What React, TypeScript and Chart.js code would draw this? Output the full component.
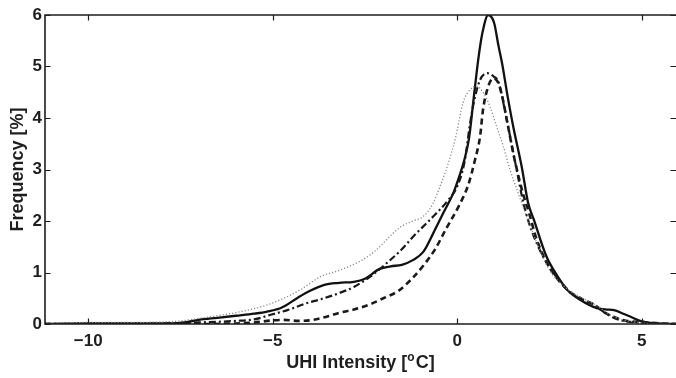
import React, { useEffect, useRef } from "react";
import { Chart, registerables } from "chart.js";

Chart.register(...registerables);

// ---- Data ----
const solidX = [-11.2, -10, -9, -8, -7.5, -7, -6.5, -6, -5.5, -5.15, -4.75, -4.3, -4, -3.6, -3.2, -2.8, -2.5, -2.1, -1.8, -1.5, -1.2, -0.92, -0.65, -0.38, -0.1, 0.05, 0.18, 0.32, 0.45, 0.57, 0.68, 0.84, 1.0, 1.12, 1.22, 1.36, 1.52, 1.75, 1.92, 2.08, 2.42, 2.7, 3.0, 3.33, 3.78, 4.05, 4.25, 4.5, 4.7, 5.0, 5.4, 5.93];
const solidY = [0, 0.01, 0.01, 0.01, 0.02, 0.08, 0.12, 0.16, 0.2, 0.24, 0.32, 0.52, 0.64, 0.76, 0.8, 0.82, 0.88, 1.07, 1.12, 1.15, 1.24, 1.4, 1.76, 2.15, 2.55, 2.85, 3.15, 3.6, 4.4, 5.13, 5.64, 6.0, 5.85, 5.4, 5.05, 4.45, 3.83, 3.05, 2.36, 2.02, 1.31, 0.95, 0.65, 0.47, 0.31, 0.28, 0.27, 0.2, 0.14, 0.05, 0.01, 0];

const dashX = [-11.2, -7, -6, -5.5, -5, -4.7, -4.3, -3.9, -3.5, -3.18, -2.8, -2.3, -2, -1.6, -1.2, -0.9, -0.6, -0.3, 0.05, 0.3, 0.48, 0.62, 0.7, 0.84, 0.98, 1.1, 1.2, 1.38, 1.56, 1.78, 1.95, 2.15, 2.5, 3.05, 3.4, 3.7, 4.0, 4.3, 4.6, 5.0, 5.5, 5.93];
const dashY = [0, 0, 0.01, 0.03, 0.07, 0.08, 0.06, 0.08, 0.15, 0.22, 0.28, 0.4, 0.5, 0.64, 0.9, 1.15, 1.45, 1.85, 2.3, 2.7, 3.18, 3.64, 4.16, 4.61, 4.77, 4.7, 4.48, 3.83, 3.18, 2.54, 2.15, 1.65, 1.1, 0.63, 0.48, 0.38, 0.22, 0.12, 0.06, 0.04, 0.01, 0];

const dashDotX = [-11.2, -9, -7.5, -7, -6, -5.5, -5, -4.6, -4.1, -3.7, -3.2, -2.8, -2.3, -1.85, -1.5, -1.19, -0.7, -0.25, 0.0, 0.2, 0.34, 0.45, 0.62, 0.82, 1.0, 1.12, 1.29, 1.47, 1.65, 1.8, 2.0, 2.3, 2.6, 3.0, 3.3, 3.7, 4.0, 4.3, 4.6, 5.0, 5.93];
const dashDotY = [0, 0.01, 0.02, 0.03, 0.06, 0.09, 0.19, 0.27, 0.4, 0.48, 0.6, 0.72, 0.95, 1.22, 1.45, 1.7, 2.05, 2.4, 2.67, 3.15, 3.85, 4.3, 4.74, 4.87, 4.8, 4.7, 4.16, 3.51, 2.86, 2.33, 1.85, 1.35, 1.0, 0.65, 0.5, 0.38, 0.22, 0.1, 0.05, 0.02, 0];

const dotX = [-11.2, -10, -9, -8, -7.5, -7, -6.5, -6, -5.5, -5.15, -4.7, -4.26, -3.7, -3.2, -2.8, -2.4, -2.1, -1.8, -1.5, -1.2, -0.9, -0.65, -0.45, -0.25, -0.05, 0.16, 0.35, 0.52, 0.7, 0.89, 1.07, 1.25, 1.43, 1.65, 1.9, 2.2, 2.5, 3.0, 3.4, 3.8, 4.1, 4.4, 4.8, 5.2, 5.93];
const dotY = [0.01, 0.03, 0.03, 0.04, 0.06, 0.11, 0.16, 0.22, 0.3, 0.37, 0.5, 0.66, 0.92, 1.04, 1.16, 1.32, 1.5, 1.72, 1.9, 2.0, 2.1, 2.35, 2.7, 3.1, 3.6, 4.3, 4.55, 4.62, 4.5, 4.22, 3.83, 3.45, 3.0, 2.55, 2.05, 1.5, 1.05, 0.67, 0.5, 0.35, 0.2, 0.1, 0.04, 0.01, 0];

const xTickValues = [-10, -5, 0, 5];
const yTickValues = [0, 1, 2, 3, 4, 5, 6];
const xMin = -11.17;
const xMax = 5.93;
const yMin = 0;
const yMax = 6;

const FONT = '"Liberation Sans", Arial, Helvetica, sans-serif';
const INK = "#1e1e1e";

function pts(xs: number[], ys: number[]) {
  return xs.map((x, i) => ({ x, y: ys[i] }));
}

const framePlugin = {
  id: "matlabFrame",
  afterDraw(chart: any) {
    const { ctx, chartArea, scales } = chart;
    const { left, right, top, bottom } = chartArea;
    const xs = scales.x;
    const ys = scales.y;
    ctx.save();
    ctx.strokeStyle = INK;
    ctx.lineWidth = 1.6;
    ctx.beginPath();
    ctx.moveTo(left, top);
    ctx.lineTo(right, top);
    ctx.moveTo(left, top - 0.8);
    ctx.lineTo(left, bottom);
    ctx.lineTo(right, bottom);
    ctx.stroke();
    // inward ticks
    const tl = 5.5;
    ctx.lineWidth = 1.2;
    ctx.beginPath();
    xTickValues.forEach((v) => {
      const px = Math.round(xs.getPixelForValue(v)) + 0.5;
      ctx.moveTo(px, bottom);
      ctx.lineTo(px, bottom - tl);
      ctx.moveTo(px, top);
      ctx.lineTo(px, top + tl);
    });
    yTickValues.forEach((v) => {
      const py = Math.round(ys.getPixelForValue(v)) + 0.5;
      ctx.moveTo(left, py);
      ctx.lineTo(left + tl, py);
      ctx.moveTo(right, py);
      ctx.lineTo(right - tl, py);
    });
    ctx.stroke();

    // axis titles
    ctx.fillStyle = INK;
    ctx.font = `bold 18px ${FONT}`;
    ctx.textAlign = "center";
    ctx.textBaseline = "middle";
    ctx.save();
    ctx.translate(18, (top + bottom) / 2);
    ctx.rotate(-Math.PI / 2);
    ctx.fillText("Frequency [%]", 0, 0);
    ctx.restore();

    const a = "UHI Intensity [";
    const s = "o";
    const b = "C]";
    const bigFont = `bold 18px ${FONT}`;
    const smallFont = `bold 12px ${FONT}`;
    ctx.font = bigFont;
    const wa = ctx.measureText(a).width;
    const wb = ctx.measureText(b).width;
    ctx.font = smallFont;
    const ws = ctx.measureText(s).width;
    const total = wa + ws + wb + 1;
    let x0 = (left + right) / 2 - total / 2;
    const base = 368;
    ctx.textAlign = "left";
    ctx.textBaseline = "alphabetic";
    ctx.font = bigFont;
    ctx.fillText(a, x0, base);
    x0 += wa;
    ctx.font = smallFont;
    ctx.fillText(s, x0, base - 7);
    x0 += ws + 1;
    ctx.font = bigFont;
    ctx.fillText(b, x0, base);
    ctx.restore();
  },
};

export default function App() {
  const canvasRef = useRef<HTMLCanvasElement | null>(null);

  useEffect(() => {
    const canvas = canvasRef.current;
    if (!canvas) return;
    const common = {
      pointRadius: 0,
      fill: false,
      cubicInterpolationMode: "monotone" as const,
    };
    const chart = new Chart(canvas, {
      type: "line",
      data: {
        datasets: [
          {
            label: "dotted",
            data: pts(dotX, dotY),
            borderColor: "#8a8a8a",
            borderWidth: 1.3,
            borderDash: [1.2, 2],
            ...common,
          },
          {
            label: "dash-dot",
            data: pts(dashDotX, dashDotY),
            borderColor: "#1a1a1a",
            borderWidth: 2.2,
            borderDash: [7, 3, 2, 3],
            ...common,
          },
          {
            label: "dashed",
            data: pts(dashX, dashY),
            borderColor: "#1a1a1a",
            borderWidth: 2.6,
            borderDash: [6, 4],
            ...common,
          },
          {
            label: "solid",
            data: pts(solidX, solidY),
            borderColor: "#111111",
            borderWidth: 2.3,
            ...common,
          },
        ],
      },
      options: {
        animation: false,
        responsive: false,
        maintainAspectRatio: false,
        layout: { padding: { top: 15, right: 0, bottom: 0, left: 0 } },
        plugins: {
          legend: { display: false },
          tooltip: { enabled: false },
          title: { display: false },
        },
        scales: {
          x: {
            type: "linear",
            min: xMin,
            max: xMax,
            grid: { display: false, drawTicks: false },
            border: { display: false },
            afterBuildTicks: (scale: any) => {
              scale.ticks = xTickValues.map((v) => ({ value: v }));
            },
            afterFit: (scale: any) => {
              scale.height = 54;
            },
            ticks: {
              autoSkip: false,
              maxRotation: 0,
              padding: 7,
              color: INK,
              font: { family: FONT, size: 17, weight: "bold" },
              callback: (v: any) => (Number(v) < 0 ? "\u2212" + Math.abs(Number(v)) : String(v)),
            },
          },
          y: {
            type: "linear",
            min: yMin,
            max: yMax,
            grid: { display: false, drawTicks: false },
            border: { display: false },
            afterBuildTicks: (scale: any) => {
              scale.ticks = yTickValues.map((v) => ({ value: v }));
            },
            afterFit: (scale: any) => {
              scale.width = 45;
            },
            ticks: {
              autoSkip: false,
              padding: 3,
              color: INK,
              font: { family: FONT, size: 17, weight: "bold" },
              callback: (v: any) => String(v),
            },
          },
        },
      },
      plugins: [framePlugin],
    });
    return () => chart.destroy();
  }, []);

  return (
    <div style={{ position: "absolute", left: 0, top: 0, width: 676, height: 378, background: "#fff" }}>
      <canvas ref={canvasRef} width={676} height={378} style={{ display: "block" }} />
    </div>
  );
}
